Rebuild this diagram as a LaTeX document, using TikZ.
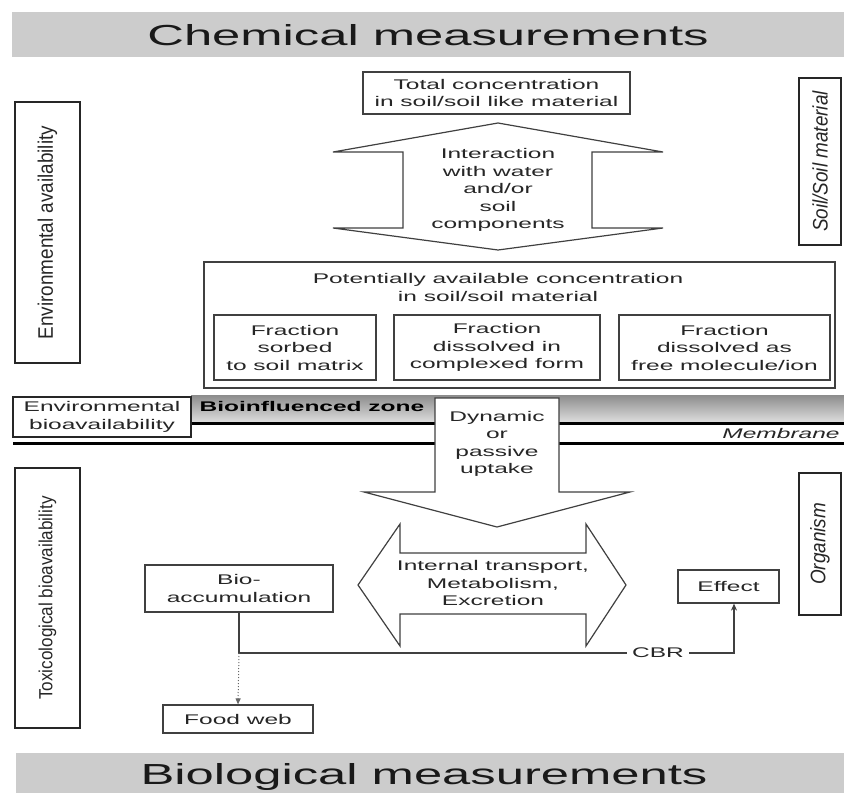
\documentclass[tikz,border=0pt]{standalone}
\usepackage{fontspec}
\setmainfont{Liberation Sans}
\newfontfamily\widefont[FakeStretch=1.75]{Liberation Sans}
\newfontfamily\narrowfont[FakeStretch=0.9]{Liberation Sans}
\usetikzlibrary{arrows.meta}
\begin{document}
\begin{tikzpicture}[x=1pt,y=-1pt,
	txt/.style={font=\widefont\fontsize{14}{17.5}\selectfont, text=black!85, align=center, inner sep=0pt},
	box/.style={txt, draw=black!75, line width=1.2pt, fill=white},
	sidebox/.style={draw=black!85, line width=2pt, inner sep=0pt, rotate=90, text=black!85,
		font=\narrowfont\fontsize{21}{24}\selectfont},
	bigtxt/.style={font=\widefont\fontsize{29}{33}\selectfont, text=black!90, inner sep=0pt},
	blockarrow/.style={draw=black!75, line width=1.2pt, fill=white, line join=miter}]
	\useasboundingbox (0,0) rectangle (844,793);
	% Thanh tren va duoi
	\fill[black!20] (12,12) rectangle (844,57);
	\node[bigtxt] (chemmeas) at (428,35) {Chemical measurements};
	\fill[black!20] (16,753) rectangle (844,793);
	\node[bigtxt] (biomeas) at (424,777) {Biological measurements};
	% Hop ben trai, ben phai
	\node[sidebox, minimum width=261, minimum height=65] (envavail) at (47.5,232.5) {Environmental availability};
	\node[sidebox, minimum width=260, minimum height=65, font=\narrowfont\fontsize{19}{22}\selectfont] (toxbio) at (47.5,598) {Toxicological bioavailability};
	\node[sidebox, minimum width=167, minimum height=42, font=\narrowfont\fontsize{21}{24}\selectfont\itshape] (soilmat) at (820,161.5) {Soil/Soil material};
	\node[sidebox, minimum width=142, minimum height=42, font=\narrowfont\fontsize{21}{24}\selectfont\itshape] (organism) at (820,544) {Organism};
	% Nong do tong
	\node[box, minimum width=267, minimum height=42] (total) at (496.5,93) {Total concentration\\in soil/soil like material};
	\draw[blockarrow] (498,123) -- (663,152) -- (592,152) -- (592,228) -- (663,228) -- (498,250)
		-- (333,228) -- (403,228) -- (403,152) -- (333,152) -- cycle;
	\node[txt] (interact) at (498,190) {Interaction\\with water\\and/or\\soil\\components};
	% Nong do co the san co
	\node[box, minimum width=631, minimum height=126] (potbox) at (519.5,325) {};
	\node[txt] (pottitle) at (498,287.5) {Potentially available concentration\\in soil/soil material};
	\node[box, minimum width=162, minimum height=65] (sorbed) at (295,347.5) {Fraction\\sorbed\\to soil matrix};
	\node[box, minimum width=206, minimum height=65] (complex) at (497,347.5) {Fraction\\dissolved in\\complexed form};
	\node[box, minimum width=211, minimum height=65] (free) at (724.5,347.5) {Fraction\\dissolved as\\free molecule/ion};
	% Vung anh huong sinh hoc, mang
	\shade[top color=black!45, bottom color=black!12] (191,395) rectangle (844,423);
	\draw[line width=3pt] (191,423) -- (844,423);
	\draw[line width=3pt] (13,443) -- (844,443);
	\node[txt, font=\widefont\fontsize{14}{17.5}\selectfont\bfseries, text=black] (bioinf) at (312,406) {Bioinfluenced zone};
	\node[txt, font=\widefont\fontsize{14}{17.5}\selectfont\itshape] (membr) at (781,433) {Membrane};
	\node[box, draw=black!85, line width=2pt, minimum width=178, minimum height=40] (envbio) at (102,417) {Environmental\\bioavailability};
	\draw[blockarrow] (435,398) -- (559,398) -- (559,492) -- (630,492) -- (497,527) -- (364,492) -- (435,492) -- cycle;
	\node[txt] (uptake) at (497,444) {Dynamic\\or\\passive\\uptake};
	% Van chuyen trong co the
	\draw[blockarrow] (358,585) -- (400,524) -- (400,553) -- (586,553) -- (586,524) -- (626,585)
		-- (586,646) -- (586,614) -- (400,614) -- (400,646) -- cycle;
	\node[txt] (internal) at (493,583) {Internal transport,\\Metabolism,\\Excretion};
	\node[box, minimum width=188, minimum height=47] (bioacc) at (239,588.5) {Bio-\\accumulation};
	\node[box, minimum width=101, minimum height=33] (effect) at (728.5,586.5) {Effect};
	\node[box, minimum width=150, minimum height=28] (foodweb) at (238,719) {Food web};
	\node[txt, inner sep=5pt] (cbr) at (658,653) {CBR};
	% Duong noi
	\coordinate (split) at (bioacc.south |- cbr);
	\draw[black!75, line width=1.2pt] (bioacc.south) -- (split) -- (cbr.west);
	\draw[black!75, line width=1.2pt, -{Stealth[length=7pt,width=6pt]}] (cbr.east) -| ([xshift=5.5pt]effect.south);
	\draw[black!60, line width=1pt, dotted, -{Triangle[length=6pt,width=5pt]}] (split) -- (foodweb.north);
\end{tikzpicture}
\end{document}
